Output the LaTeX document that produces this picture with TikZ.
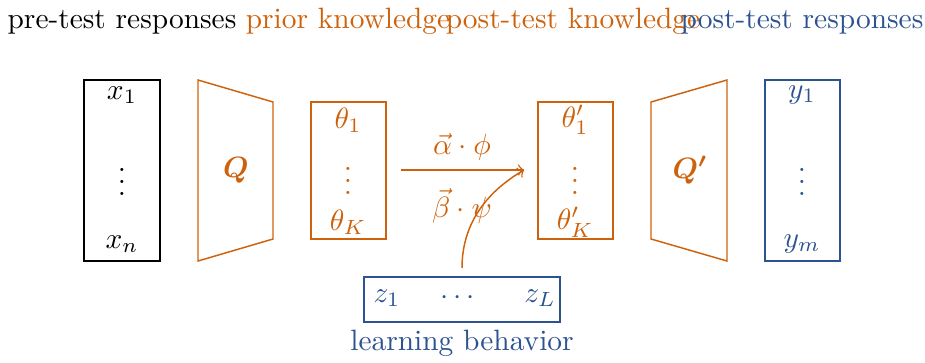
\documentclass[tikz,border=0pt]{standalone}
\usepackage{amsmath,amssymb,bm}
\definecolor{myorange}{RGB}{206,98,12}
\definecolor{myblue}{RGB}{44,82,145}
\begin{document}
\begin{tikzpicture}[x=0.34pt,y=-0.34pt,
  boxst/.style={draw,line width=0.5pt},
  lbl/.style={inner sep=0pt,anchor=base},
  arr/.style={->,line width=0.5pt,myorange}]
\useasboundingbox (0,0) rectangle (925,362);
% top labels
\node[lbl] (l1) at (122,28) {pre-test responses};
\node[lbl,myorange] (l2) at (348,28) {prior knowledge};
\node[lbl,myorange] (l3) at (573,28) {post-test knowledge};
\node[lbl,myblue] (l4) at (802,28) {post-test responses};
% x box
\draw[boxst] (84,80) rectangle (160,261);
\node (x1) at (122,95) {$x_1$};
\node (xd) at (122,173) {$\vdots$};
\node (xn) at (122,244) {$x_n$};
% Q trapezoid
\draw[boxst,myorange] (198,80) -- (273,102) -- (273,239) -- (198,261) -- cycle;
\node[myorange] (Q) at (236,170) {$\bm{Q}$};
% theta box
\draw[boxst,myorange] (311,102) rectangle (386,239);
\node[myorange] (t1) at (348,120) {$\theta_1$};
\node[myorange] (td) at (348,172) {$\vdots$};
\node[myorange] (tK) at (348,222) {$\theta_K$};
% arrow
\coordinate (as) at (401,170);
\coordinate (ae) at (524,170);
\draw[arr] (as) -- (ae);
\node[myorange] (al) at (462,147) {$\vec{\alpha}\cdot\phi$};
\node[myorange] (bl) at (462,206) {$\vec{\beta}\cdot\psi$};
% theta' box
\draw[boxst,myorange] (538,102) rectangle (613,239);
\node[myorange] (tp1) at (575,120) {$\theta'_1$};
\node[myorange] (tpd) at (575,172) {$\vdots$};
\node[myorange] (tpK) at (575,222) {$\theta'_K$};
% Q' trapezoid
\draw[boxst,myorange] (651,102) -- (727,80) -- (727,261) -- (651,239) -- cycle;
\node[myorange] (Qp) at (690,170) {$\bm{Q'}$};
% y box
\draw[boxst,myblue] (765,80) rectangle (840,261);
\node[myblue] (y1) at (802,95) {$y_1$};
\node[myblue] (yd) at (802,173) {$\vdots$};
\node[myblue] (ym) at (802,244) {$y_m$};
% z box
\node[boxst,myblue,minimum width=196*0.34pt,minimum height=45*0.34pt,inner sep=0pt] (zb) at (462,299.5) {};
\node[myblue] (z1) at (387,298) {$z_1$};
\node[myblue] (zd) at (460,298) {$\cdots$};
\node[myblue] (zL) at (540,298) {$z_L$};
\node[myblue] (lb) at (462,343) {learning behavior};
% curved arrow
\coordinate (cs) at (462,268);
\draw[arr] (cs) .. controls (462,225) and (485,193) .. (ae);
\end{tikzpicture}
\end{document}
